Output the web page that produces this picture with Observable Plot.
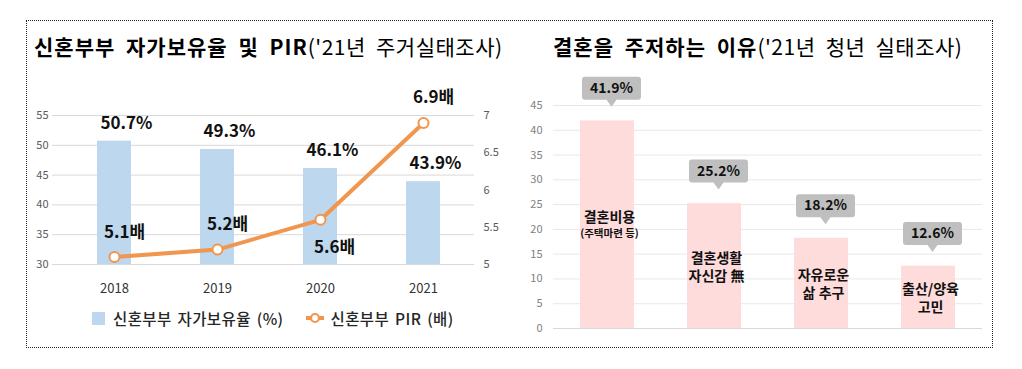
<!DOCTYPE html>
<html><head><meta charset="utf-8">
<script src="https://cdn.jsdelivr.net/npm/d3@7"></script>
<script src="https://cdn.jsdelivr.net/npm/@observablehq/plot@0.6"></script>
<style>
body{margin:0;background:#fff;font-family:"Noto Sans CJK KR","Noto Sans",sans-serif;}
#wrap{position:relative;width:1022px;height:369px;overflow:hidden;background:#fff;}
#border{position:absolute;left:26px;top:20px;width:965px;height:326px;border:1px dotted #222;}
.title{position:absolute;top:31px;font-size:21px;white-space:nowrap;color:#000;line-height:30px;word-spacing:5px;}
.title b{font-weight:700;letter-spacing:1px}
.title span{font-weight:400;letter-spacing:0.5px}
#c1{position:absolute;left:0;top:80px}
#c2{position:absolute;left:510px;top:80px}
#legend{position:absolute;top:306px;left:92px;font-size:15.5px;font-weight:500;color:#262626;white-space:nowrap;display:flex;align-items:center;height:24px;letter-spacing:0.4px;word-spacing:2px}
.sq{display:inline-block;width:13px;height:13px;background:#BDD7EE;margin-right:8px}
</style></head>
<body>
<div id="wrap">
  <div id="border"></div>
  <div class="title" style="left:34px"><b>신혼부부 자가보유율 및 PIR</b><span>('21년 주거실태조사)</span></div>
  <div class="title" style="left:553px"><b>결혼을 주저하는 이유</b><span>('21년 청년 실태조사)</span></div>
  <div id="c1"></div>
  <div id="c2"></div>
  <div id="legend">
    <span class="sq"></span><span>신혼부부 자가보유율 (%)</span>
    <svg width="18" height="12" style="margin-left:22px;margin-right:7px"><line x1="0" y1="6" x2="18" y2="6" stroke="#F0964F" stroke-width="4"/><circle cx="9" cy="6" r="4" fill="#fff" stroke="#F0964F" stroke-width="2.2"/></svg><span>신혼부부 PIR (배)</span>
  </div>
</div>
<script>
// ---- Left chart data ----
const years = ["2018", "2019", "2020", "2021"];
const ownership = [50.7, 49.3, 46.1, 43.9];   // 신혼부부 자가보유율 (%)
const pir = [5.1, 5.2, 5.6, 6.9];             // 신혼부부 PIR (배)
const ownTicks = [30, 35, 40, 45, 50, 55];
const pirTicks = [5, 5.5, 6, 6.5, 7];

// ---- Right chart data ----
const reasons = ["결혼비용", "결혼생활\n자신감 無", "자유로운\n삶 추구", "출산/양육\n고민"];
const reasonNotes = ["(주택마련 등)", "", "", ""];
const reasonValues = [41.9, 25.2, 18.2, 12.6];
const reasonTicks = [0, 5, 10, 15, 20, 25, 30, 35, 40, 45];

const FONT = '"Noto Sans CJK KR","Noto Sans",sans-serif';
const BLUE = "#BDD7EE", ORANGE = "#F0964F", PINK = "#FFDCDC", GREY = "#BFBFBF";

// secondary axis mapping (PIR -> ownership scale)
const o0 = ownTicks[0], o1 = ownTicks[ownTicks.length - 1];
const p0 = pirTicks[0], p1 = pirTicks[pirTicks.length - 1];
const pirToY = p => o0 + (p - p0) * (o1 - o0) / (p1 - p0);
const yToPir = y => p0 + (y - o0) * (p1 - p0) / (o1 - o0);

const t1 = years.map((year, i) => ({year, own: ownership[i], pir: pir[i], pirY: pirToY(pir[i])}));

const left = Plot.plot({
  width: 510, height: 220,
  marginLeft: 52, marginRight: 36, marginTop: 35, marginBottom: 36,
  style: {fontFamily: FONT, fontSize: "11px", overflow: "visible", background: "transparent"},
  x: {domain: years, paddingInner: 0.67, paddingOuter: 0.335, insetLeft: 10, label: null},
  y: {domain: [o0, o1], label: null},
  marks: [
    Plot.ruleY(ownTicks, {stroke: "#D9D9D9", strokeWidth: 1}),
    Plot.barY(t1, {x: "year", y1: o0, y2: "own", fill: BLUE}),
    Plot.line(t1, {x: "year", y: "pirY", stroke: ORANGE, strokeWidth: 4}),
    Plot.dot(t1, {x: "year", y: "pirY", r: 5, fill: "#fff", stroke: ORANGE, strokeWidth: 2}),
    Plot.text(t1, {x: "year", y: "own", text: d => d.own.toFixed(1) + "%", dx: 12, dy: -18, fontSize: 17, fontWeight: 700, fill: "#111"}),
    Plot.text(t1.filter(d => d.year !== "2020"), {x: "year", y: "pirY", text: d => d.pir.toFixed(1) + "배", dx: 10, dy: -25, fontSize: 17, fontWeight: 700, fill: "#111"}),
    Plot.text(t1.filter(d => d.year === "2020"), {x: "year", y: "pirY", text: d => d.pir.toFixed(1) + "배", dx: 14, dy: 28, fontSize: 17, fontWeight: 700, fill: "#111"}),
    Plot.axisY(ownTicks, {anchor: "left", tickSize: 0, tickPadding: 4, fill: "#595959", fontSize: 11, label: null}),
    Plot.axisY(pirTicks.map(pirToY), {anchor: "right", tickSize: 0, tickPadding: 9, tickFormat: v => String(+yToPir(v).toFixed(1)), fill: "#595959", fontSize: 11, label: null}),
    Plot.axisX({tickSize: 0, tickPadding: 19, fontSize: 13, fill: "#333", label: null})
  ]
});
document.getElementById("c1").appendChild(left);

// callout symbol: rounded rect with a pointer whose tip is at the origin
const callout = {
  draw(ctx) {
    const w = 29.5, top = -30, bottom = -7, r = 3, pw = 5;
    ctx.moveTo(0, 0);
    ctx.lineTo(-pw, bottom);
    ctx.lineTo(-w + r, bottom);
    ctx.arcTo(-w, bottom, -w, bottom - r, r);
    ctx.lineTo(-w, top + r);
    ctx.arcTo(-w, top, -w + r, top, r);
    ctx.lineTo(w - r, top);
    ctx.arcTo(w, top, w, top + r, r);
    ctx.lineTo(w, bottom - r);
    ctx.arcTo(w, bottom, w - r, bottom, r);
    ctx.lineTo(pw, bottom);
    ctx.closePath();
  }
};

const t2 = reasons.map((label, i) => ({label, note: reasonNotes[i], value: reasonValues[i]}));

const right = Plot.plot({
  width: 512, height: 260,
  marginLeft: 43, marginRight: 40, marginTop: 25, marginBottom: 12,
  style: {fontFamily: FONT, fontSize: "11px", overflow: "visible", background: "transparent"},
  x: {domain: reasons, paddingInner: 0.5, paddingOuter: 0.25, axis: null},
  y: {domain: [0, 45], label: null},
  marks: [
    Plot.ruleY(reasonTicks, {stroke: d => d === 0 ? "#D9D9D9" : "#E8E8E8", strokeWidth: 1}),
    Plot.barY(t2, {x: "label", y: "value", fill: PINK}),
    Plot.dot(t2, {x: "label", y: "value", symbol: callout, r: 5, fill: GREY, stroke: "none", dx: 4, dy: -14}),
    Plot.text(t2, {x: "label", y: "value", text: d => d.value.toFixed(1) + "%", dx: 4, dy: -32.5, fontSize: 14, fontWeight: 700, fill: "#111"}),
    Plot.text(t2.filter(d => !d.note), {x: "label", y: d => d.value / 2, text: "label", lineHeight: 1.3, fontSize: 14, fontWeight: 700, fill: "#111", dx: 2}),
    Plot.text(t2.filter(d => d.note), {x: "label", y: d => d.value / 2, text: "label", dy: -7, fontSize: 14, fontWeight: 700, fill: "#111", dx: 2}),
    Plot.text(t2.filter(d => d.note), {x: "label", y: d => d.value / 2, text: "note", dy: 9, fontSize: 10.5, fontWeight: 700, fill: "#111", dx: 2}),
    Plot.axisY(reasonTicks, {anchor: "left", tickSize: 0, tickPadding: 11, fill: "#7F7F7F", fontSize: 11, label: null})
  ]
});
document.getElementById("c2").appendChild(right);
</script>
</body></html>
